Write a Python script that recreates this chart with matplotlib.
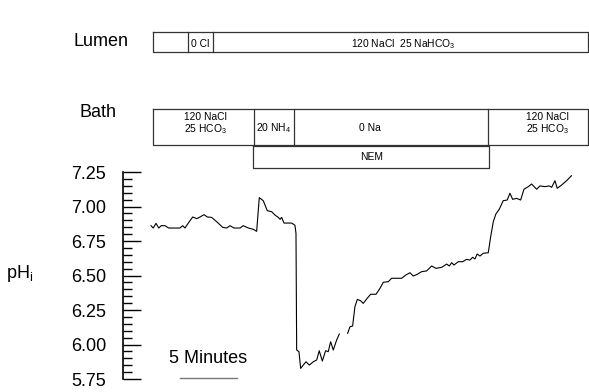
import numpy as np
import matplotlib
matplotlib.use("Agg")
import matplotlib.pyplot as plt

plt.rcParams['font.family'] = ['Liberation Sans', 'DejaVu Sans']
plt.rcParams['mathtext.default'] = 'regular'

# pHi trace (time in minutes, NaN = gap in recording)
time_min = [0.0, 0.2, 0.44, 0.68, 0.9, 1.23, 1.55, 2.13, 2.54, 2.78, 2.98, 3.36, 3.66,
            4.01, 4.30, 4.65, 4.94, 5.32, 5.76, 6.29, 6.64, 6.93, 7.28, 7.81, 8.10,
            8.54, 8.97, 9.27, 9.50, 9.85, 10.20, 10.59, 10.88, 11.17, 11.32, 11.46,
            11.67, 11.96, 12.34, 12.63, 12.72, 12.78, 12.98, 13.13, 13.36, 13.60,
            13.89, 14.24, 14.54, 14.76, 15.03, 15.32, 15.55, 15.76, 15.99, 16.29,
            16.52, 16.9, 17.25, 17.46, 17.69, 17.89, 18.10, 18.39, 18.62, 18.97,
            19.27, 19.74, 20.09, 20.38, 20.82, 21.11, 21.99, 22.37, 22.72, 23.01,
            23.36, 23.75, 24.18, 24.62, 25.00, 25.50, 25.94, 26.17, 26.38, 26.58,
            26.96, 27.34, 27.69, 27.98, 28.22, 28.42, 28.62, 28.86, 29.15, 29.59,
            29.80, 30.03, 30.26, 30.55, 30.90, 31.25, 31.49, 31.73, 32.08, 32.43,
            32.72, 33.10, 33.39, 33.83, 34.12, 34.56, 34.94, 35.15, 35.44, 35.64,
            36.03, 36.46, 36.89]
ph_i = [6.861, 6.844, 6.878, 6.844, 6.861, 6.861, 6.844, 6.844, 6.844, 6.861, 6.844,
        6.890, 6.924, 6.912, 6.924, 6.941, 6.924, 6.921, 6.890, 6.849, 6.844, 6.861,
        6.844, 6.844, 6.861, 6.844, 6.835, 6.820, 7.064, 7.042, 6.970, 6.962, 6.938,
        6.921, 6.907, 6.921, 6.880, 6.880, 6.880, 6.864, 6.806, 5.960, 5.948, 5.827,
        5.851, 5.875, 5.851, 5.875, 5.888, 5.955, 5.880, 5.955, 5.948, 6.020, 5.960,
        6.033, 6.076, np.nan, 6.081, 6.129, 6.134, 6.274, 6.327, 6.317, 6.298, 6.335,
        6.364, 6.364, 6.407, 6.451, 6.455, 6.480, 6.480, 6.504, 6.520, 6.496, 6.509,
        6.528, 6.533, 6.569, 6.552, 6.559, 6.583, 6.569, 6.593, 6.576, 6.600, 6.600,
        6.617, 6.612, 6.632, 6.620, 6.656, 6.641, 6.661, 6.665, 6.781, 6.890, 6.946,
        6.980, 7.042, 7.047, 7.096, 7.052, 7.059, 7.047, 7.125, 7.144, 7.163, 7.125,
        7.149, 7.144, 7.149, 7.139, 7.187, 7.132, 7.156, 7.187, 7.223]

y_ticks = [5.75, 6.00, 6.25, 6.50, 6.75, 7.00, 7.25]
scale_bar = [2.54, 7.54]

W, H = 589, 392
fig = plt.figure(figsize=(W / 100, H / 100), dpi=100)

# main trace axes
ax = fig.add_axes([123 / W, 13 / H, 460 / W, 207 / H])
ax.plot(time_min, ph_i, color='black', lw=0.8)
ax.set_xlim(-2.456, 37.9)
ax.set_ylim(5.75, 7.25)
for s in ['top', 'right', 'bottom']:
    ax.spines[s].set_visible(False)
ax.spines['left'].set_linewidth(1.2)
ax.set_xticks([])
ax.set_yticks(y_ticks)
ax.set_yticklabels(['%.2f' % v for v in y_ticks])
ax.set_yticks(np.arange(5.75, 7.26, 0.05), minor=True)
ax.tick_params(axis='y', which='major', direction='in', length=13, width=1,
               labelsize=13, pad=12)
ax.tick_params(axis='y', which='minor', direction='in', length=6.5, width=1)

# scale bar
ax.plot(scale_bar, [5.757, 5.757], color='#777777', lw=1, clip_on=False)
ax.text(np.mean(scale_bar), 5.895, '5 Minutes', ha='center', va='center', fontsize=13)

# overlay in pixel coordinates for the protocol boxes and labels
ov = fig.add_axes([0, 0, 1, 1], zorder=-1)
ov.set_xlim(0, W)
ov.set_ylim(H, 0)
ov.axis('off')

box_kw = dict(color='#333333', lw=0.9)


def box(x0, x1, y0, y1, dividers=()):
    ov.plot([x0, x1, x1, x0, x0], [y0, y0, y1, y1, y0], **box_kw)
    for d in dividers:
        ov.plot([d, d], [y0, y1], **box_kw)


box(153, 588, 32, 52, dividers=[188, 213])
box(153, 588, 109, 145, dividers=[254, 294, 488])
box(253, 489, 146, 168)

small = 7.4
ov.text(200, 44, '0 Cl', ha='center', va='center', fontsize=small)
ov.text(403, 44, '120 NaCl  25 NaHCO$_3$', ha='center', va='center', fontsize=small)
ov.text(205, 117, '120 NaCl', ha='center', va='center', fontsize=small)
ov.text(205, 129, '25 HCO$_3$', ha='center', va='center', fontsize=small)
ov.text(274, 128, '20 NH$_4$', ha='center', va='center', fontsize=small)
ov.text(370, 128, '0 Na', ha='center', va='center', fontsize=small)
ov.text(547, 117, '120 NaCl', ha='center', va='center', fontsize=small)
ov.text(547, 129, '25 HCO$_3$', ha='center', va='center', fontsize=small)
ov.text(372, 157, 'NEM', ha='center', va='center', fontsize=small)

ov.text(101, 41, 'Lumen', ha='center', va='center', fontsize=13)
ov.text(98, 112, 'Bath', ha='center', va='center', fontsize=13)
ov.text(20, 273, 'pH$_i$', ha='center', va='center', fontsize=13)

fig.savefig('out.png', dpi=100)
